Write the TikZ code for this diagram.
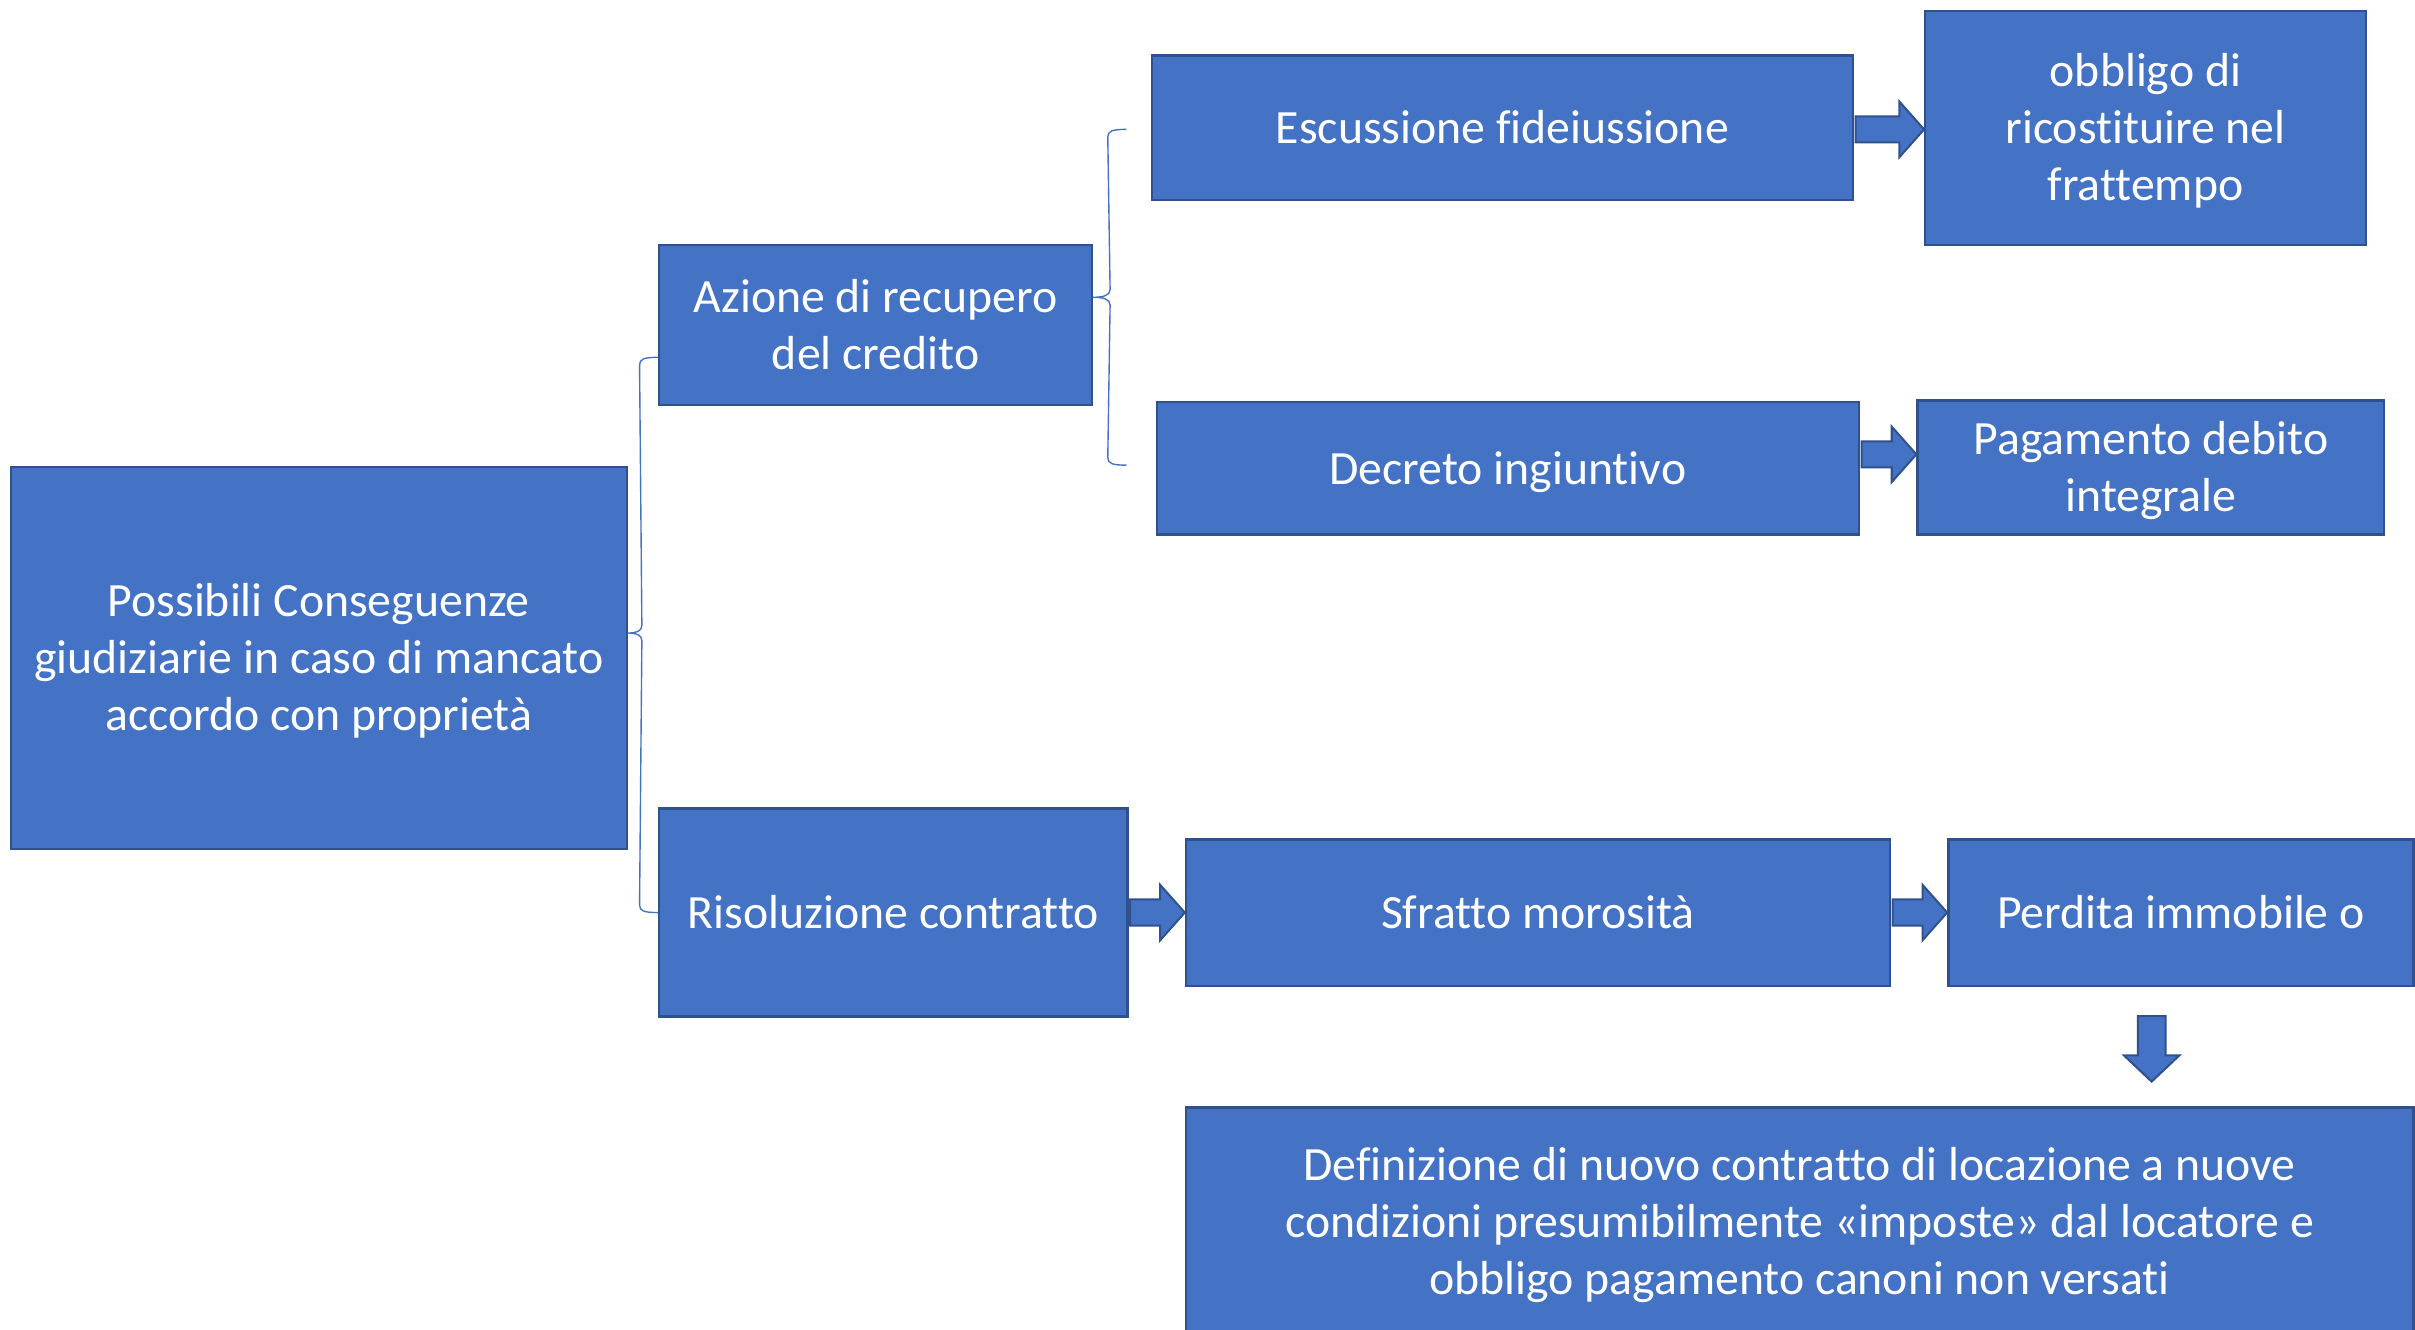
\documentclass[tikz,border=0pt]{standalone}
\usepackage{fontspec}
\setmainfont{Carlito}[Ligatures=NoCommon,RawFeature=-liga]
\usetikzlibrary{calc}
\definecolor{boxfill}{HTML}{4472C4}
\definecolor{boxline}{HTML}{2F528F}
\newcommand\lowtext[1]{\raisebox{-3pt}[\height][\depth]{\begin{tabular}{@{}c@{}}#1\end{tabular}}}
\tikzset{
  box/.style={draw=boxline, fill=boxfill, line width=1.5pt, text=white, inner sep=0pt,
    align=center, font=\fontsize{31}{37}\selectfont},
  blockarrow/.style={draw=boxline, fill=boxfill, line width=1.3pt, line join=miter},
  brace/.style={draw=boxfill, line width=0.9pt}
}
\newcommand\rightblock[3]{%
  \path[blockarrow] let \p1=($(#1.east)+(1pt,#3)$), \p2=(#2.west) in
    (\x1,\y1+8.5pt) -- (\x2-16pt,\y1+8.5pt) -- (\x2-16pt,\y1+18pt) -- (\x2,\y1)
    -- (\x2-16pt,\y1-18pt) -- (\x2-16pt,\y1-8.5pt) -- (\x1,\y1-8.5pt) -- cycle;}
\begin{document}
\begin{tikzpicture}[x=1pt,y=-1pt]
\useasboundingbox[fill=white] (0,0) rectangle (1568,863);

\node[box, minimum width=400, minimum height=248] (main) at (207,427)
  {\lowtext{Possibili Conseguenze\\giudiziarie in caso di mancato\\accordo con proprietà}};
\node[box, minimum width=281, minimum height=104] (aza) at (568.5,211)
  {\lowtext{Azione di recupero\\del credito}};
\node[box, minimum width=304, minimum height=135] (ris) at (580,592.5)
  {\lowtext{Risoluzione contratto}};
\node[box, minimum width=455, minimum height=94] (esc) at (975.5,83)
  {\lowtext{Escussione fideiussione}};
\node[box, minimum width=286, minimum height=152] (obb) at (1393,83)
  {\lowtext{obbligo di\\ricostituire nel\\frattempo}};
\node[box, minimum width=456, minimum height=86] (dec) at (979,304)
  {\lowtext{Decreto ingiuntivo}};
\node[box, minimum width=303, minimum height=87] (pag) at (1396.5,303.5)
  {\lowtext{Pagamento debito\\integrale}};
\node[box, minimum width=457, minimum height=95] (sfr) at (998.5,592.5)
  {\lowtext{Sfratto morosità}};
\node[box, minimum width=302, minimum height=95] (per) at (1416,592.5)
  {\lowtext{Perdita immobile o}};
\node[box, minimum width=797, minimum height=148] (def) at (1168.5,793)
  {\lowtext{Definizione di nuovo contratto di locazione a nuove\\condizioni presumibilmente «imposte» dal locatore e\\obbligo pagamento canoni non versati}};

% block arrows
\rightblock{esc}{obb}{-1pt}
\rightblock{dec}{pag}{9pt}
\rightblock{ris}{sfr}{0pt}
\rightblock{sfr}{per}{0pt}
\path[blockarrow] let \p1=($(per.south)+(-19pt,-19pt)$), \p2=(def.north) in
  (\x1-9pt,\y1) -- (\x1+9pt,\y1) -- (\x1+9pt,\y2+33pt) -- (\x1+18pt,\y2+33pt)
  -- (\x1,\y2+16pt) -- (\x1-18pt,\y2+33pt) -- (\x1-9pt,\y2+33pt) -- cycle;

% left brace
\coordinate (lbT) at ($(aza.west)+(0,21)$);
\coordinate (lbB) at (ris.west);
\coordinate (lbM) at ($(main.east)+(0,-16)$);
\draw[brace] (lbT) .. controls +(-9,0) and +(0,-4) .. ($(lbT)+(-12,5)$)
  -- ($(lbM)+(9,-5)$) .. controls +(0,4) and +(5,0) .. (lbM)
  .. controls +(5,0) and +(0,-4) .. ($(lbM)+(9,5)$)
  -- ($(lbB)+(-12,-5)$) .. controls +(0,4) and +(-9,0) .. (lbB);

% right brace
\coordinate (rbT) at ($(esc.west)+(-16,1)$);
\coordinate (rbB) at ($(dec.west)+(-19,-2)$);
\coordinate (rbM) at ($(aza.east)+(0,-18)$);
\draw[brace] (rbT) .. controls +(-9,0) and +(0,-4) .. ($(rbT)+(-12,5)$)
  -- ($(rbM)+(11,-5)$) .. controls +(0,4) and +(6,0) .. (rbM)
  .. controls +(6,0) and +(0,-4) .. ($(rbM)+(11,5)$)
  -- ($(rbB)+(-12,-5)$) .. controls +(0,4) and +(-9,0) .. (rbB);
\end{tikzpicture}
\end{document}
